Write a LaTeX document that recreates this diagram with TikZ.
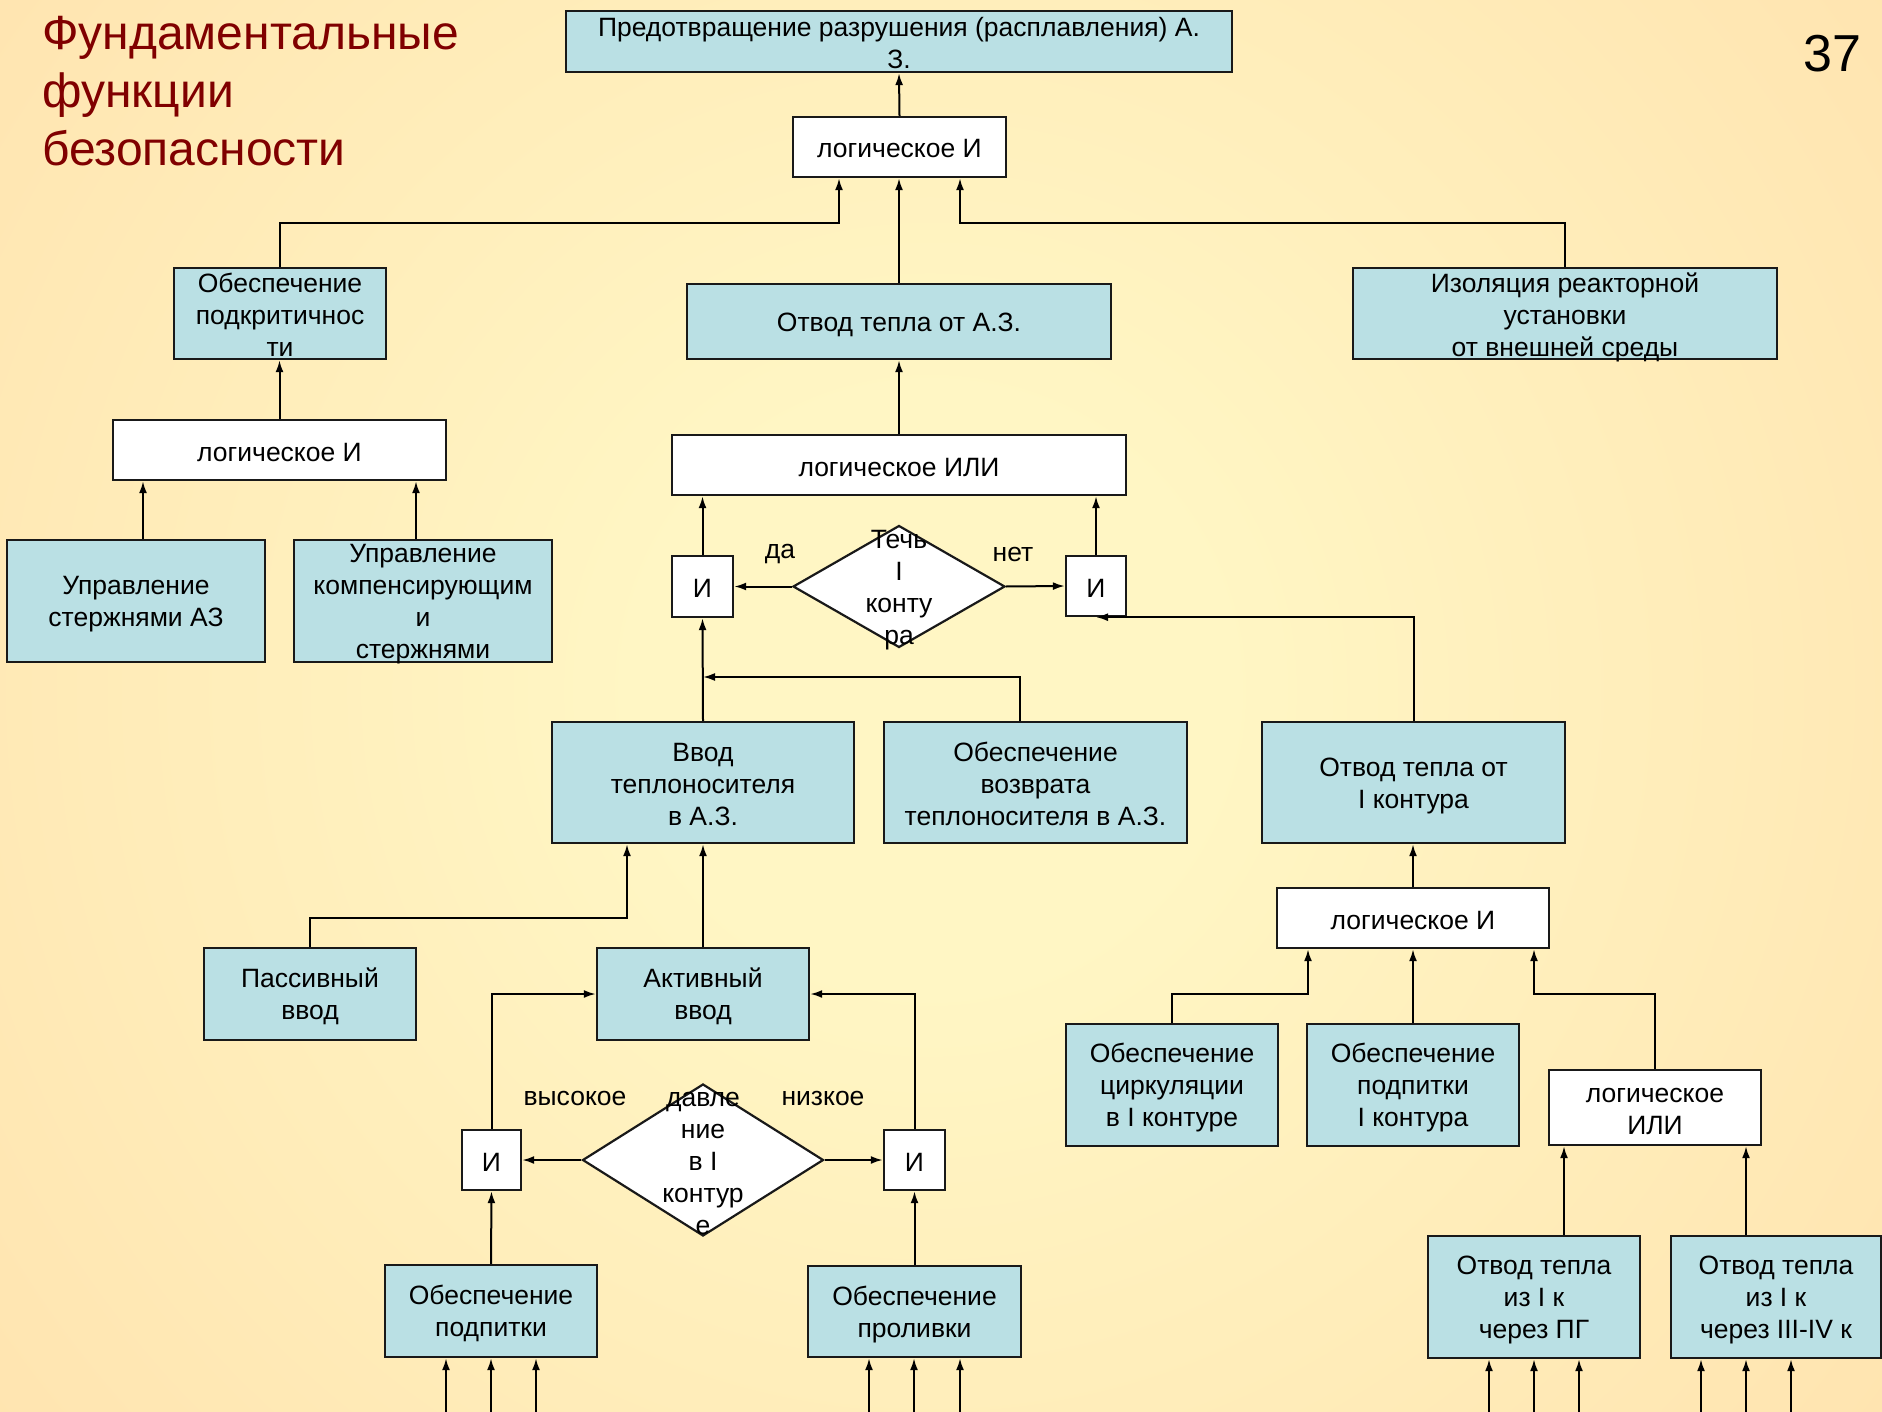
\documentclass[tikz,border=0pt]{standalone}
\usepackage{fontspec}
\setmainfont{Liberation Sans}
\usetikzlibrary{arrows.meta,shapes.geometric}
\definecolor{bgin}{RGB}{255,246,196}
\definecolor{bgmid}{RGB}{255,214,160}
\definecolor{bgout}{RGB}{252,206,150}
\definecolor{boxblue}{RGB}{186,224,228}
\definecolor{titlered}{RGB}{128,0,0}
\definecolor{edge}{RGB}{25,25,25}
\pgfdeclareradialshading{bgglow}{\pgfpoint{0bp}{0bp}}{color(0bp)=(bgin); color(5bp)=(bgin); color(33bp)=(bgmid); color(50bp)=(bgout)}
% invisible strut that fixes the height of a box's first text line
\newcommand\tb{\rule{0pt}{25pt}}

\begin{document}
\begin{tikzpicture}[x=1pt,y=-1pt,
  every node/.style={font=\fontsize{26.5}{32}\selectfont},
  sz/.style 2 args={minimum width=#1pt, minimum height=#2pt},
  blk/.style={draw=edge, line width=2.4pt, inner sep=0pt, align=center,
    execute at begin node={\tb},
    execute at end node={\rule[-3pt]{0pt}{3pt}}},
  bluebox/.style={blk, fill=boxblue},
  logicbox/.style={blk, fill=white},
  decision/.style={diamond, draw=edge, line width=2.2pt, fill=white, inner sep=0pt},
  txt/.style={align=center, inner sep=0pt, yshift=-3.5pt},
  wire/.style={line width=2pt, draw=black},
  arr/.style={wire, -{Latex[length=12pt,width=8pt]}}
]
% page and background glow
\useasboundingbox (0,0) rectangle (1882,1412);
\fill[bgout] (0,0) rectangle (1882,1412);
\begin{scope}
  \clip (0,0) rectangle (1882,1412);
  \shade[shading=bgglow] (930,690) circle (1450pt);
\end{scope}

% heading and page number
\node[anchor=north west, inner sep=0pt, align=left, text=titlered,
      font=\fontsize{48}{58}\selectfont] (title) at (42,16)
      {Фундаментальные\\функции\\безопасности};
\node[anchor=base east, inner sep=0pt, font=\fontsize{52}{60}\selectfont] (pagenum) at (1862,72) {37};

% ---- top level ----
\node[bluebox, sz={666}{61}] (goal) at (899,41.5) {\tb Предотвращение разрушения (расплавления) А.\\З.};
\node[logicbox, sz={213}{60}] (and1) at (899.5,147) {логическое И};
\node[bluebox, sz={212}{91}] (subcrit) at (280,313.5) {};
\node[txt, yshift=2pt] (subcritT) at (subcrit) {Обеспечение\\подкритичнос\\ти};
\node[bluebox, sz={424}{75}] (heataz) at (899,321.5) {Отвод тепла от А.З.};
\node[bluebox, sz={424}{91}] (isol) at (1565,313.5) {};
\node[txt] (isolT) at (isol) {Изоляция реакторной\\установки\\от внешней среды};

% ---- reactivity branch ----
\node[logicbox, sz={333}{60}] (and2) at (279.5,450) {логическое И};
\node[bluebox, sz={258}{122}] (rods) at (136,601) {\tb Управление\\стержнями АЗ};
\node[bluebox, sz={258}{122}] (comp) at (423,601) {};
\node[txt] (compT) at (comp) {Управление\\компенсирующим\\и\\стержнями};

% ---- heat removal branch ----
\node[logicbox, sz={454}{60}] (or1) at (899,465) {логическое ИЛИ};
\node[logicbox, sz={61}{61}] (andL) at (702.5,586.5) {И};
\node[logicbox, sz={60}{60}] (andR) at (1096,586) {И};
\node[decision, minimum width=212pt, minimum height=122pt] (leak) at (899,586.5) {};
\node[txt] (leakT) at (leak) {Течь\\I\\конту\\ра};
\node[txt] (yes) at (780,551) {да};
\node[txt] (no) at (1013,551) {нет};

\node[bluebox, sz={302}{121}] (inject) at (703,782.5) {\tb Ввод\\теплоносителя\\в А.З.};
\node[bluebox, sz={303}{121}] (return) at (1035.5,782.5) {\tb Обеспечение\\возврата\\теплоносителя в А.З.};
\node[bluebox, sz={303}{121}] (heatI) at (1413.5,782.5) {\tb Отвод тепла от\\I контура};

\node[bluebox, sz={212}{92}] (passive) at (310,994) {\tb Пассивный\\ввод};
\node[bluebox, sz={212}{92}] (active) at (703,994) {\tb Активный\\ввод};

\node[logicbox, sz={59}{60}] (andLo1) at (491.5,1160) {И};
\node[logicbox, sz={61}{60}] (andLo2) at (914.5,1160) {И};
\node[decision, minimum width=241pt, minimum height=152pt] (press) at (703,1160) {};
\node[txt] (pressT) at (press) {давле\\ние\\в I\\контур\\е};
\node[txt] (high) at (575,1095) {высокое};
\node[txt] (low) at (823,1095) {низкое};

\node[bluebox, sz={212}{92}] (feed) at (491,1311) {\tb Обеспечение\\подпитки};
\node[bluebox, sz={213}{91}] (spill) at (914.5,1311.5) {\tb Обеспечение\\проливки};

% ---- primary circuit heat removal ----
\node[logicbox, sz={272}{60}] (and3) at (1413,918) {логическое И};
\node[bluebox, sz={212}{122}] (circ) at (1172,1085) {\tb Обеспечение\\циркуляции\\в I контуре};
\node[bluebox, sz={212}{122}] (feedI) at (1413,1085) {\tb Обеспечение\\подпитки\\I контура};
\node[logicbox, sz={212}{75}] (or2) at (1655,1107.5) {\tb логическое\\ИЛИ};
\node[bluebox, sz={212}{122}] (viaSG) at (1534,1297) {\tb Отвод тепла\\из I к\\через ПГ};
\node[bluebox, sz={210}{122}] (viaIII) at (1776,1297) {\tb Отвод тепла\\из I к\\через III-IV к};

% ---- connectors ----
\draw[arr] (and1.north) -- (goal.south);
\coordinate (j1) at (839,223);
\coordinate (j2) at (960,223);
\draw[arr] (subcrit.north) |- (j1) -- (j1 |- and1.south);
\draw[arr] (heataz.north) -- (heataz.north |- and1.south);
\draw[arr] (isol.north) |- (j2) -- (j2 |- and1.south);

\draw[arr] (and2.north) -- (and2.north |- subcrit.south);
\draw[arr] (143,0 |- rods.north) -- (143,0 |- and2.south);
\draw[arr] (416,0 |- comp.north) -- (416,0 |- and2.south);

\draw[arr] (or1.north) -- (or1.north |- heataz.south);
\draw[arr] (andL.north) -- (andL.north |- or1.south);
\draw[arr] (andR.north) -- (andR.north |- or1.south);
\draw[arr] (leak.west) -- (andL.east);
\draw[arr] (leak.east) -- (andR.west);
\draw[arr] (heatI.north) |- (andR.south);

\coordinate (j3) at (703,677);
\draw[arr] (inject.north) -- (andL.south);
\draw[arr] (1020,0 |- return.north) |- (j3);

\coordinate (j4) at (627,918);
\draw[arr] (passive.north) |- (j4) -- (j4 |- inject.south);
\draw[arr] (active.north) -- (active.north |- inject.south);
\draw[arr] (andLo1.north) |- (active.west);
\draw[arr] (andLo2.north) |- (active.east);
\draw[arr] (press.west) -- (andLo1.east);
\draw[arr] (press.east) -- (andLo2.west);
\draw[arr] (feed.north) -- (andLo1.south);
\draw[arr] (spill.north) -- (andLo2.south);

\draw[arr] (and3.north) -- (and3.north |- heatI.south);
\coordinate (j5) at (1308,994);
\coordinate (j6) at (1534,994);
\draw[arr] (circ.north) |- (j5) -- (j5 |- and3.south);
\draw[arr] (feedI.north) -- (feedI.north |- and3.south);
\draw[arr] (or2.north) |- (j6) -- (j6 |- and3.south);
\draw[arr] (1564,0 |- viaSG.north) -- (1564,0 |- or2.south);
\draw[arr] (1746,0 |- viaIII.north) -- (1746,0 |- or2.south);

% incoming lines from below the page edge
\foreach \xx in {446,491,536} \draw[arr] (\xx,1412) -- (\xx,0 |- feed.south);
\foreach \xx in {869,914,960} \draw[arr] (\xx,1412) -- (\xx,0 |- spill.south);
\foreach \xx in {1489,1534,1579} \draw[arr] (\xx,1412) -- (\xx,0 |- viaSG.south);
\foreach \xx in {1701,1746,1791} \draw[arr] (\xx,1412) -- (\xx,0 |- viaIII.south);
\end{tikzpicture}
\end{document}
